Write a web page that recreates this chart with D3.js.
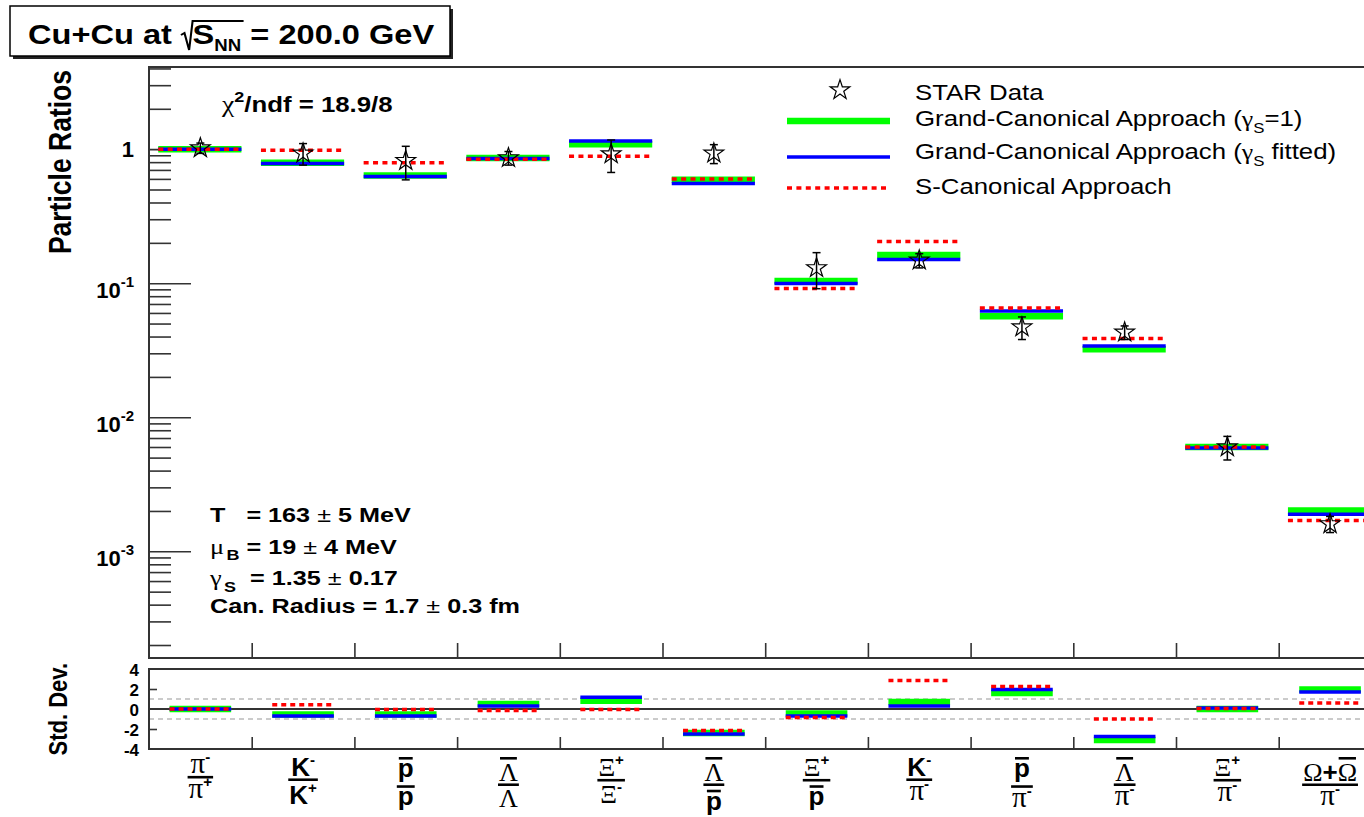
<!DOCTYPE html>
<html>
<head>
<meta charset="utf-8">
<script src="https://cdn.jsdelivr.net/npm/d3@7"></script>
<style>
  body { margin: 0; background: #fff; }
  text { font-family: "Liberation Sans", Arial, sans-serif; white-space: pre; }
</style>
</head>
<body>
<svg id="chart" width="1364" height="817"></svg>
<script>
// ---- data ----
// numerator / denominator of each ratio ("~" = bar over next char, "^" = superscript)
const labelNum = ['π^-', 'K^-', '~p', '~Λ', 'Ξ^+', '~Λ', 'Ξ^+', 'K^-', '~p', '~Λ', 'Ξ^+', 'Ω+~Ω'];
const labelDen = ['π^+', 'K^+', 'p', 'Λ', 'Ξ^-', '~p', '~p', 'π^-', 'π^-', 'π^-', 'π^-', 'π^-'];

const starData = [1.02, 0.93, 0.82, 0.86, 0.92, 0.93, 0.13, 0.148, 0.047, 0.043, 0.0060, 0.0016];
const starErr  = [0.09, 0.17, 0.23, 0.10, 0.25, 0.15, 0.039, 0.018, 0.009, 0.005, 0.0012, 0.00022];

const gcGamma1   = [1.0, 0.79, 0.635, 0.86, 1.09, 0.59, 0.104, 0.162, 0.0567, 0.0321, 0.0060, 0.00202];
const gcFitted   = [1.0, 0.78, 0.625, 0.85, 1.15, 0.555, 0.0995, 0.150, 0.0620, 0.0340, 0.0059, 0.00189];
const sCanonical = [1.0, 0.98, 0.79, 0.84, 0.887, 0.60, 0.0912, 0.205, 0.0654, 0.0387, 0.0060, 0.00170];

const devGamma1   = [0.0, -0.55, -0.55, 0.5, 0.83, -2.4, -0.45, 0.7, 1.6, -3.1, 0.0, 1.95];
const devFitted   = [0.0, -0.7, -0.7, 0.3, 1.17, -2.5, -0.7, 0.3, 1.95, -2.75, 0.1, 1.7];
const devSCan     = [0.0, 0.43, -0.05, -0.15, -0.05, -2.15, -0.85, 2.85, 2.25, -1.0, 0.05, 0.6];

const majorTicks = [1e-3, 1e-2, 1e-1, 1];
const devTicks = [4, 2, 0, -2, -4];

// ---- layout ----
const SX = 1.2;              // the original picture is stretched horizontally
const SANS = '"Liberation Sans", Arial, sans-serif';
const SERIF = '"Liberation Serif", "Times New Roman", serif';
const GREEK = 'πΛΞΩχγμ';
const GREEN = '#00ff00', BLUE = '#0000ff', RED = '#ff0000';

const svg = d3.select('#chart');

const xEdge = d3.scaleLinear().domain([0, 12]).range([149, 1381.4]);
const yTop = d3.scaleLog().domain([1.6e-4, 4.1]).range([658, 67]);
const yDev = d3.scaleLinear().domain([-4, 4]).range([749, 669]);

// one <text> with tspans {t, size, bold, serif, dy}; dy is absolute offset from baseline
function richText(g, tokens) {
  const txt = g.append('text').attr('x', 0).attr('y', 0);
  tokens.forEach(tk => {
    const sp = txt.append('tspan')
      .attr('y', tk.dy || 0)
      .style('font-family', tk.serif ? SERIF : SANS)
      .style('font-weight', tk.bold ? 'bold' : 'normal')
      .style('font-size', tk.size + 'px')
      .text(tk.t);
    if (tk.dx) sp.attr('dx', tk.dx);
    tk.node = sp.node();
  });
  return txt;
}

// ---- title box ----
svg.append('rect').attr('x', 13).attr('y', 9).attr('width', 440).attr('height', 50).attr('fill', '#222');
svg.append('rect').attr('x', 10).attr('y', 6).attr('width', 440).attr('height', 50)
  .attr('fill', '#fff').attr('stroke', '#000').attr('stroke-width', 1.5);
{
  const g = svg.append('g').attr('transform', `translate(28,44) scale(${SX * 0.97},1)`);
  const toks = [
    { t: 'Cu+Cu at ', size: 28, bold: true },
    { t: 'S', size: 28, bold: true, dx: 10 },
    { t: 'NN', size: 16, bold: true, dy: 7 },
    { t: ' = 200.0 GeV', size: 28, bold: true }
  ];
  richText(g, toks);
  const rx = toks[0].node.getComputedTextLength();
  const w2 = toks[1].node.getComputedTextLength() + toks[2].node.getComputedTextLength();
  g.append('path')
    .attr('d', `M${rx},-9 L${rx + 3},-11 L${rx + 7},6 L${rx + 10},-23 L${rx + 10 + w2 + 2},-23`)
    .attr('fill', 'none').attr('stroke', '#000').attr('stroke-width', 1.8);
}

// ---- top panel ----
const topG = svg.append('g');

const minorTicks = [];
for (let e = -4; e <= 0; e++) {
  for (let m = 2; m <= 9; m++) {
    const v = m * Math.pow(10, e);
    if (v > 1.6e-4 && v < 4.1) minorTicks.push(v);
  }
}

function tickStyle(g) {
  g.select('.domain').remove();
  g.selectAll('.tick line').attr('stroke', '#333').attr('stroke-width', 1.6);
  g.selectAll('.tick text').remove();
}

topG.append('g').attr('transform', 'translate(149,0)')
  .call(d3.axisRight(yTop).tickValues(minorTicks).tickSize(22).tickFormat(''))
  .call(tickStyle);
topG.append('g').attr('transform', 'translate(149,0)')
  .call(d3.axisRight(yTop).tickValues(majorTicks).tickSize(42).tickFormat(''))
  .call(tickStyle);
topG.append('g').attr('transform', 'translate(0,658)')
  .call(d3.axisTop(xEdge).tickValues(d3.range(1, 12)).tickSize(15).tickFormat(''))
  .call(tickStyle);

topG.append('rect').attr('x', 149).attr('y', 67).attr('width', xEdge(12) - 149).attr('height', 591)
  .attr('fill', 'none').attr('stroke', '#333').attr('stroke-width', 2);

// y tick labels
majorTicks.forEach(v => {
  const y = yTop(v);
  if (v === 1) {
    topG.append('text').attr('x', 134).attr('y', y + 8).attr('text-anchor', 'end')
      .style('font-weight', 'bold').style('font-size', '22px').text('1');
  } else {
    const ex = Math.round(Math.log10(v));
    const t = topG.append('text').attr('x', 134).attr('y', y + 15).attr('text-anchor', 'end')
      .style('font-weight', 'bold').style('font-size', '22px');
    t.append('tspan').text('10');
    t.append('tspan').attr('dy', -11).style('font-size', '15px').text(String(ex));
  }
});

// y title
topG.append('text')
  .attr('transform', `translate(71,70) scale(${SX},1) rotate(-90)`)
  .attr('text-anchor', 'end')
  .style('font-weight', 'bold').style('font-size', '26.5px')
  .text('Particle Ratios');

// model bars
function drawBars(g, yS, vals, color, width, dash, f0, f1) {
  g.append('g').selectAll('line').data(vals).join('line')
    .attr('x1', (d, i) => xEdge(i + f0)).attr('x2', (d, i) => xEdge(i + f1))
    .attr('y1', d => yS(d)).attr('y2', d => yS(d))
    .attr('stroke', color).attr('stroke-width', width)
    .attr('stroke-dasharray', dash);
}
drawBars(topG, yTop, gcGamma1, GREEN, 6.5, null, 0.09, 0.9);
drawBars(topG, yTop, gcFitted, BLUE, 3.5, null, 0.09, 0.9);
drawBars(topG, yTop, sCanonical, RED, 3.5, '5,4.4', 0.09, 0.9);

// data points
const star = d3.symbol(d3.symbolStar).size(120);
const pts = topG.append('g').selectAll('g').data(starData).join('g')
  .attr('transform', (d, i) => `translate(${xEdge(i + 0.5)},0)`);
pts.append('line')
  .attr('y1', (d, i) => yTop(d + starErr[i])).attr('y2', (d, i) => yTop(d - starErr[i]))
  .attr('stroke', '#000').attr('stroke-width', 1.5);
pts.append('line').attr('x1', -4).attr('x2', 4)
  .attr('y1', (d, i) => yTop(d + starErr[i])).attr('y2', (d, i) => yTop(d + starErr[i]))
  .attr('stroke', '#000').attr('stroke-width', 1.5);
pts.append('line').attr('x1', -4).attr('x2', 4)
  .attr('y1', (d, i) => yTop(d - starErr[i])).attr('y2', (d, i) => yTop(d - starErr[i]))
  .attr('stroke', '#000').attr('stroke-width', 1.5);
pts.append('path').attr('d', star)
  .attr('transform', d => `translate(0,${yTop(d)})`)
  .attr('fill', 'none').attr('stroke', '#000').attr('stroke-width', 1.2);

// chi2 text
{
  const g = topG.append('g').attr('transform', `translate(222,112) scale(${SX},1)`);
  richText(g, [
    { t: 'χ', size: 23, serif: true },
    { t: '2', size: 15, bold: true, dy: -10 },
    { t: '/ndf = 18.9/8', size: 21.5, bold: true }
  ]);
}

// fit parameters
{
  const lines = [
    { y: 522, tokens: [{ t: 'T   = 163 ', size: 21, bold: true }, { t: '±', size: 21 }, { t: ' 5 MeV', size: 21, bold: true }] },
    { y: 554, tokens: [{ t: 'μ', size: 22, serif: true }, { t: 'B', size: 15, bold: true, dy: 6, dx: 2 }, { t: ' = 19 ', size: 21, bold: true }, { t: '±', size: 21 }, { t: ' 4 MeV', size: 21, bold: true }] },
    { y: 585, tokens: [{ t: 'γ', size: 22, serif: true }, { t: 'S', size: 15, bold: true, dy: 7, dx: 2 }, { t: '  = 1.35 ', size: 21, bold: true }, { t: '±', size: 21 }, { t: ' 0.17', size: 21, bold: true }] },
    { y: 613, tokens: [{ t: 'Can. Radius = 1.7 ', size: 21, bold: true }, { t: '±', size: 21 }, { t: ' 0.3 fm', size: 21, bold: true }] }
  ];
  lines.forEach(l => {
    const g = topG.append('g').attr('transform', `translate(210,${l.y}) scale(${SX},1)`);
    richText(g, l.tokens);
  });
}

// legend
{
  const lg = svg.append('g');
  lg.append('path').attr('d', star).attr('transform', 'translate(840,90)')
    .attr('fill', 'none').attr('stroke', '#000').attr('stroke-width', 1.2);
  lg.append('line').attr('x1', 787).attr('x2', 890).attr('y1', 121).attr('y2', 121).attr('stroke', GREEN).attr('stroke-width', 6.5);
  lg.append('line').attr('x1', 787).attr('x2', 890).attr('y1', 157).attr('y2', 157).attr('stroke', BLUE).attr('stroke-width', 3.5);
  lg.append('line').attr('x1', 787).attr('x2', 890).attr('y1', 188).attr('y2', 188).attr('stroke', RED).attr('stroke-width', 3.5).attr('stroke-dasharray', '5,4.4');
  const entries = [
    { y: 100, tokens: [{ t: 'STAR Data', size: 21.5 }] },
    { y: 126, tokens: [{ t: 'Grand-Canonical Approach (', size: 21.5 }, { t: 'γ', size: 21.5, serif: true }, { t: 'S', size: 14, dy: 7 }, { t: '=1)', size: 21.5 }] },
    { y: 159, tokens: [{ t: 'Grand-Canonical Approach (', size: 21.5 }, { t: 'γ', size: 21.5, serif: true }, { t: 'S', size: 14, dy: 7 }, { t: ' fitted)', size: 21.5 }] },
    { y: 194, tokens: [{ t: 'S-Canonical Approach', size: 21.5 }] }
  ];
  entries.forEach(e => {
    const g = lg.append('g').attr('transform', `translate(915,${e.y}) scale(${SX},1)`);
    richText(g, e.tokens);
  });
}

// ---- bottom panel ----
const botG = svg.append('g');
[1, -1].forEach(v => {
  botG.append('line').attr('x1', 149).attr('x2', xEdge(12)).attr('y1', yDev(v)).attr('y2', yDev(v))
    .attr('stroke', '#bbb').attr('stroke-width', 1.5).attr('stroke-dasharray', '5,4');
});
botG.append('line').attr('x1', 149).attr('x2', xEdge(12)).attr('y1', yDev(0)).attr('y2', yDev(0))
  .attr('stroke', '#333').attr('stroke-width', 2);

botG.append('g').attr('transform', 'translate(149,0)')
  .call(d3.axisRight(yDev).tickValues([2, -2]).tickSize(8).tickFormat(''))
  .call(tickStyle);
botG.append('g').attr('transform', 'translate(0,749)')
  .call(d3.axisTop(xEdge).tickValues(d3.range(1, 12)).tickSize(12).tickFormat(''))
  .call(tickStyle);
botG.append('rect').attr('x', 149).attr('y', 669).attr('width', xEdge(12) - 149).attr('height', 80)
  .attr('fill', 'none').attr('stroke', '#333').attr('stroke-width', 2);

devTicks.forEach(v => {
  botG.append('text').attr('x', 139).attr('y', yDev(v) + 7).attr('text-anchor', 'end')
    .style('font-weight', 'bold').style('font-size', '17px').text(String(v));
});
botG.append('text')
  .attr('transform', `translate(67,663) scale(${SX},1) rotate(-90)`)
  .attr('text-anchor', 'end')
  .style('font-weight', 'bold').style('font-size', '22px')
  .text('Std. Dev.');

drawBars(botG, yDev, devGamma1, GREEN, 6.5, null, 0.2, 0.8);
drawBars(botG, yDev, devFitted, BLUE, 3.5, null, 0.2, 0.8);
drawBars(botG, yDev, devSCan, RED, 3.5, '5,4', 0.2, 0.8);

// ---- x labels as fractions, one <text> per label ----
function parseLabel(s) {
  const toks = [];
  let bar = false, sup = false;
  for (const ch of s) {
    if (ch === '~') { bar = true; continue; }
    if (ch === '^') { sup = true; continue; }
    toks.push({ ch, bar, sup });
    bar = false; sup = false;
  }
  return toks;
}

// appends tspans for one row; returns metrics (ink top/bottom relative to baseline)
function rowSpans(txt, str, size) {
  const items = parseLabel(str).map(t => {
    const isG = GREEK.includes(t.ch);
    const s = t.sup ? size * 0.58 : (t.ch === 'π' ? size * 1.12 : size);
    const off = t.sup ? -size * 0.42 : 0;
    const sp = txt.append('tspan')
      .style('font-family', isG ? SERIF : SANS)
      .style('font-weight', isG ? 'normal' : 'bold')
      .style('font-size', s + 'px')
      .text(t.ch);
    let h = 0.72, d = 0;
    if (t.ch === 'p') { h = 0.53; d = 0.21; }
    else if (t.ch === 'π') h = 0.46;
    else if ('ΛΞΩ'.includes(t.ch)) h = 0.67;
    else if (t.ch === '-') h = 0.35;
    else if (t.ch === '+') h = 0.55;
    return { sp, t, s, off, h, d, w: sp.node().getComputedTextLength() };
  });
  let top = Infinity, baseTop = Infinity, bottom = -Infinity, width = 0;
  items.forEach(it => {
    it.x = width;
    let gt = it.off - it.h * it.s;
    if (it.t.bar) { it.barY = gt - 5; gt = it.barY - 1.3; }
    top = Math.min(top, gt);
    if (!it.t.sup) baseTop = Math.min(baseTop, gt);
    bottom = Math.max(bottom, it.off + it.d * it.s);
    width += it.w;
  });
  return { items, top, baseTop, bottom, width };
}

const xl = svg.append('g');
labelNum.forEach((num, i) => {
  const cx = xEdge(i + 0.5);
  const size = 26;
  const txt = xl.append('text');
  const n = rowSpans(txt, num, size);
  const d = rowSpans(txt, labelDen[i], size);
  const nb = 757 - n.top;
  const lineY = nb + n.bottom + 4;
  const db = lineY + 5 - Math.max(d.top, d.baseTop - 2);
  [[n, nb], [d, db]].forEach(([row, base]) => {
    const x0 = cx - row.width / 2;
    row.items.forEach(it => {
      it.sp.attr('x', x0 + it.x).attr('y', base + it.off);
      if (it.barY !== undefined) {
        xl.append('line').attr('x1', x0 + it.x + 1).attr('x2', x0 + it.x + it.w - 1)
          .attr('y1', base + it.barY).attr('y2', base + it.barY)
          .attr('stroke', '#000').attr('stroke-width', 2.6);
      }
    });
  });
  const half = Math.max(n.width, d.width) / 2 + 1;
  xl.append('line').attr('x1', cx - half).attr('x2', cx + half).attr('y1', lineY).attr('y2', lineY)
    .attr('stroke', '#000').attr('stroke-width', 2.6);
});
</script>
</body>
</html>
